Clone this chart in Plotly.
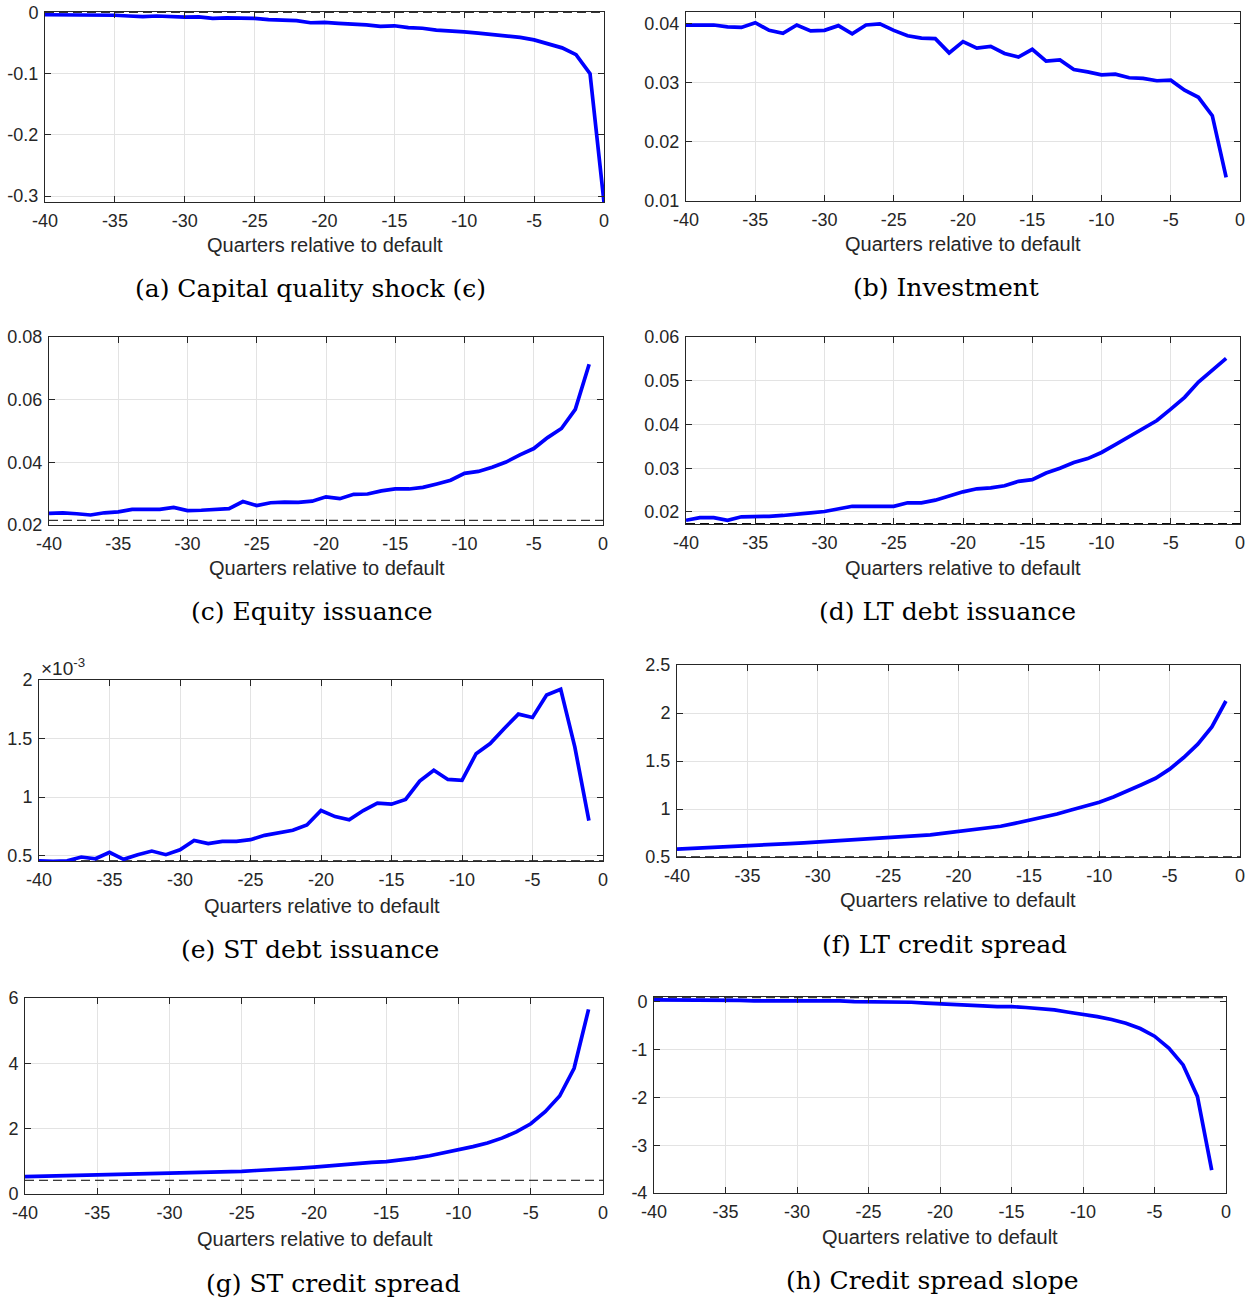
import plotly.graph_objects as go

# ---------------- data ----------------
quarters = list(range(-40, 0))        # -40 .. -1
quarters_a = list(range(-40, 1))      # -40 .. 0

capital_quality_shock = [
    -0.004, -0.004, -0.004, -0.0045, -0.005, -0.0048, -0.006, -0.007, -0.006, -0.0075,
    -0.008, -0.0075, -0.010, -0.009, -0.009, -0.010, -0.012, -0.0125, -0.0135, -0.017,
    -0.0165, -0.018, -0.0185, -0.0205, -0.023, -0.022, -0.025, -0.026, -0.029, -0.030,
    -0.032, -0.034, -0.036, -0.038, -0.041, -0.045, -0.051, -0.058, -0.069, -0.100,
    -0.310]

investment = [
    0.0397, 0.0397, 0.0397, 0.0394, 0.0393, 0.0401, 0.0388, 0.0383, 0.0397, 0.0387,
    0.0388, 0.0396, 0.0382, 0.0397, 0.0399, 0.0388, 0.0379, 0.0375, 0.0374, 0.0350,
    0.0369, 0.0358, 0.0361, 0.0349, 0.0343, 0.0356, 0.0336, 0.0338, 0.0322, 0.0318,
    0.0313, 0.0314, 0.0308, 0.0307, 0.0303, 0.0304, 0.0287, 0.0275, 0.0244, 0.0140]

equity_issuance = [
    0.0237, 0.0239, 0.0236, 0.0232, 0.0239, 0.0242, 0.0250, 0.0250, 0.0250, 0.0256,
    0.0246, 0.0247, 0.0250, 0.0252, 0.0275, 0.0262, 0.0271, 0.0273, 0.0272, 0.0276,
    0.0290, 0.0284, 0.0298, 0.0299, 0.0309, 0.0315, 0.0315, 0.0320, 0.0331, 0.0343,
    0.0365, 0.0371, 0.0384, 0.0401, 0.0424, 0.0444, 0.0479, 0.0508, 0.0569, 0.0713]

lt_debt_issuance = [
    0.0181, 0.0187, 0.0187, 0.0181, 0.0189, 0.0189, 0.0190, 0.0192, 0.0194, 0.0198,
    0.0201, 0.0207, 0.0213, 0.0213, 0.0214, 0.0213, 0.0221, 0.0221, 0.0227, 0.0237,
    0.0246, 0.0253, 0.0255, 0.0260, 0.0270, 0.0274, 0.0289, 0.0300, 0.0313, 0.0322,
    0.0336, 0.0354, 0.0372, 0.0390, 0.0409, 0.0435, 0.0462, 0.0497, 0.0523, 0.0551]

# in units of 1e-3
st_debt_issuance = [
    0.456, 0.452, 0.456, 0.489, 0.474, 0.529, 0.469, 0.509, 0.540, 0.509,
    0.551, 0.631, 0.603, 0.623, 0.623, 0.637, 0.674, 0.697, 0.717, 0.763,
    0.886, 0.834, 0.806, 0.886, 0.949, 0.940, 0.980, 1.137, 1.229, 1.151,
    1.143, 1.371, 1.457, 1.586, 1.709, 1.680, 1.871, 1.920, 1.429, 0.800]

lt_credit_spread = [
    0.583, 0.589, 0.595, 0.601, 0.607, 0.614, 0.622, 0.631, 0.639, 0.647,
    0.656, 0.663, 0.672, 0.680, 0.688, 0.697, 0.706, 0.717, 0.730, 0.748,
    0.768, 0.785, 0.802, 0.820, 0.850, 0.880, 0.913, 0.948, 0.990, 1.030,
    1.070, 1.125, 1.185, 1.253, 1.320, 1.415, 1.536, 1.675, 1.855, 2.125]

st_credit_spread = [
    0.53, 0.54, 0.55, 0.55, 0.56, 0.57, 0.58, 0.60, 0.61, 0.62,
    0.63, 0.63, 0.65, 0.66, 0.68, 0.69, 0.72, 0.74, 0.75, 0.79,
    0.82, 0.86, 0.89, 0.93, 0.97, 0.99, 1.04, 1.10, 1.17, 1.26,
    1.35, 1.45, 1.56, 1.71, 1.90, 2.15, 2.52, 3.00, 3.85, 5.65]

credit_spread_slope = [
    0.04, 0.04, 0.045, 0.045, 0.04, 0.035, 0.03, 0.02, 0.02, 0.025,
    0.025, 0.03, 0.03, 0.02, 0.005, 0.005, -0.01, -0.01, -0.01, -0.03,
    -0.04, -0.055, -0.07, -0.085, -0.10, -0.10, -0.12, -0.14, -0.17, -0.22,
    -0.26, -0.31, -0.37, -0.45, -0.56, -0.72, -0.97, -1.32, -1.98, -3.52]

# steady-state reference levels (dashed lines); None = not visible
steady_states = [0.0, None, 0.0215, 0.01735, 0.457, 0.502, 0.42, 0.085]

x_tickvals = [-40, -35, -30, -25, -20, -15, -10, -5, 0]
x_ticktext = ["-40", "-35", "-30", "-25", "-20", "-15", "-10", "-5", "0"]

y_tickvals = [
    [-0.3, -0.2, -0.1, 0.0],
    [0.01, 0.02, 0.03, 0.04],
    [0.02, 0.04, 0.06, 0.08],
    [0.02, 0.03, 0.04, 0.05, 0.06],
    [0.5, 1.0, 1.5, 2.0],
    [0.5, 1.0, 1.5, 2.0, 2.5],
    [0, 2, 4, 6],
    [-4, -3, -2, -1, 0],
]
y_ticktext = [
    ["-0.3", "-0.2", "-0.1", "0"],
    ["0.01", "0.02", "0.03", "0.04"],
    ["0.02", "0.04", "0.06", "0.08"],
    ["0.02", "0.03", "0.04", "0.05", "0.06"],
    ["0.5", "1", "1.5", "2"],
    ["0.5", "1", "1.5", "2", "2.5"],
    ["0", "2", "4", "6"],
    ["-4", "-3", "-2", "-1", "0"],
]

captions = [
    "(a) Capital quality shock (\u03f5)",
    "(b) Investment",
    "(c) Equity issuance",
    "(d) LT debt issuance",
    "(e) ST debt issuance",
    "(f) LT credit spread",
    "(g) ST credit spread",
    "(h) Credit spread slope",
]
x_title = "Quarters relative to default"

series_x = [quarters_a] + [quarters] * 7
series_y = [capital_quality_shock, investment, equity_issuance, lt_debt_issuance,
            st_debt_issuance, lt_credit_spread, st_credit_spread, credit_spread_slope]

# ---------------- layout geometry (pixels) ----------------
W, H = 1255, 1303
# plot box: left, right, top, bottom ; y-range
boxes = [
    (45, 604, 12, 202, [-0.3095, 0.0005]),
    (686, 1240, 12, 201, [0.01, 0.0419]),
    (49, 603, 337, 525, [0.02, 0.08]),
    (686, 1240, 337, 524, [0.01725, 0.06]),
    (39, 603, 680, 861, [0.455, 2.0]),
    (677, 1240, 665, 857, [0.5, 2.5]),
    (25, 603, 998, 1194, [0.0, 6.0]),
    (654, 1226, 997, 1193, [-4.0, 0.1]),
]
# (x_center, y_center) for axis title and caption
title_pos = [(325, 245), (963, 244), (327, 568), (963, 568),
             (322, 906), (958, 900), (315, 1239), (940, 1237)]
caption_pos = [(310, 289), (946, 287), (311, 611), (947, 611),
               (310, 949), (944, 944), (333, 1283), (932, 1280)]

SANS = "Liberation Sans, Arial, sans-serif"
SERIF = "DejaVu Serif, serif"


def px(x):
    return x / W


def py(y):
    return 1 - y / H


fig = go.Figure()
layout = dict(
    width=W, height=H,
    margin=dict(l=0, r=0, t=0, b=0, autoexpand=False),
    paper_bgcolor="white", plot_bgcolor="white",
    showlegend=False,
    font=dict(family=SANS, size=17, color="#262626"),
)
annotations = []

tick_font = dict(family=SANS, size=18, color="#262626")

for i in range(8):
    n = i + 1
    xa = "x" if n == 1 else f"x{n}"
    ya = "y" if n == 1 else f"y{n}"
    L, R, T, B, yr = boxes[i]
    common = dict(
        showline=True, linecolor="#262626", linewidth=1, mirror="ticks",
        ticks="inside", ticklen=6, tickcolor="#262626", tickwidth=1,
        showgrid=True, gridcolor="#e3e3e3", gridwidth=1, zeroline=False,
        tickfont=tick_font, automargin=False,
    )
    layout["xaxis" if n == 1 else f"xaxis{n}"] = dict(
        domain=[px(L), px(R)], anchor=ya, range=[-40, 0],
        tickvals=x_tickvals, ticktext=x_ticktext, ticklabelstandoff=2, **common)
    layout["yaxis" if n == 1 else f"yaxis{n}"] = dict(
        domain=[py(B), py(T)], anchor=xa, range=yr,
        tickvals=y_tickvals[i], ticktext=y_ticktext[i], ticklabelstandoff=2, **common)

    if steady_states[i] is not None:
        fig.add_trace(go.Scatter(
            x=[-40, 0], y=[steady_states[i]] * 2, mode="lines",
            line=dict(color="black", width=1, dash="9px,5px"),
            xaxis=xa, yaxis=ya, hoverinfo="skip"))
    fig.add_trace(go.Scatter(
        x=series_x[i], y=series_y[i], mode="lines",
        line=dict(color="#0000ff", width=3.7),
        xaxis=xa, yaxis=ya, cliponaxis=True))

    tx, ty = title_pos[i]
    annotations.append(dict(
        x=px(tx), y=py(ty), xref="paper", yref="paper", text=x_title,
        showarrow=False, xanchor="center", yanchor="middle",
        font=dict(family=SANS, size=20, color="#262626")))
    cx, cy = caption_pos[i]
    annotations.append(dict(
        x=px(cx), y=py(cy), xref="paper", yref="paper", text=captions[i],
        showarrow=False, xanchor="center", yanchor="middle",
        font=dict(family=SERIF, size=25, color="black")))

# exponent label for panel (e)
annotations.append(dict(
    x=px(39), y=py(667), xref="paper", yref="paper",
    text="\u00d710<sup>-3</sup>", showarrow=False, xanchor="left", yanchor="middle",
    font=dict(family=SANS, size=19, color="#262626")))

layout["annotations"] = annotations
fig.update_layout(**layout)
fig.write_html("out.html")
